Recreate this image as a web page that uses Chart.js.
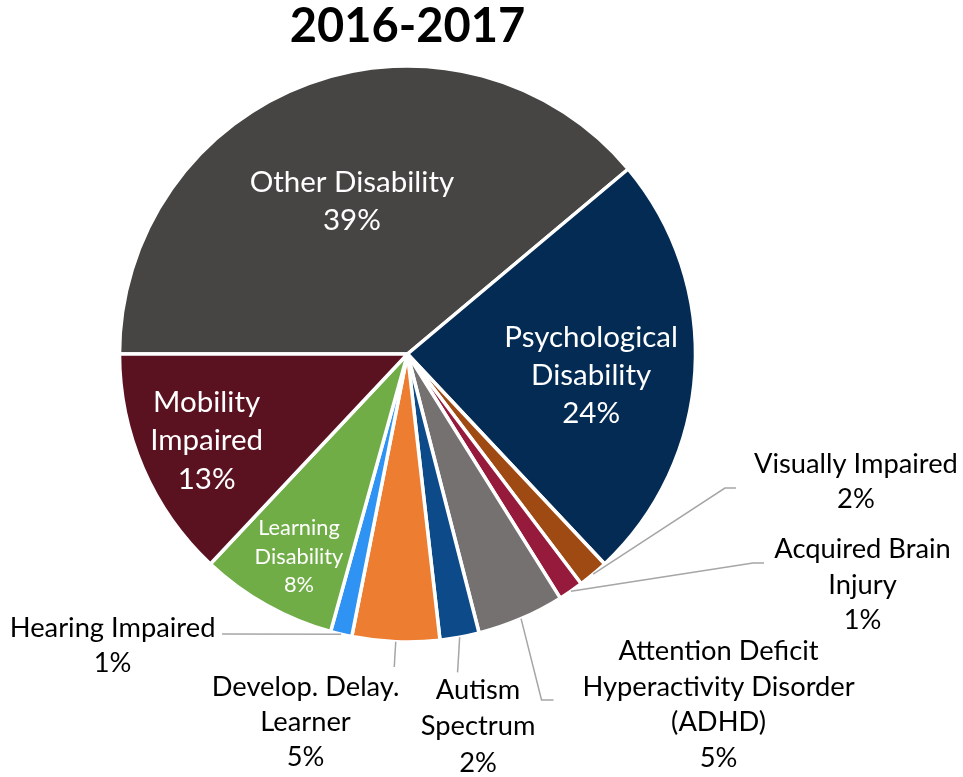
<!DOCTYPE html>
<html>
<head>
<meta charset="utf-8">
<script src="https://cdn.jsdelivr.net/npm/chart.js@4.4.0/dist/chart.umd.min.js"></script>
<style>
html,body{margin:0;padding:0;background:#ffffff;}
#wrap{width:963px;height:777px;}
</style>
</head>
<body>
<div id="wrap"><canvas id="c" width="963" height="777"></canvas></div>
<script>
// ---- data ----
const titleText = '2016-2017';
const categories = [
  ['Other Disability'],
  ['Psychological', 'Disability'],
  ['Visually Impaired'],
  ['Acquired Brain', 'Injury'],
  ['Attention Deficit', 'Hyperactivity Disorder', '(ADHD)'],
  ['Autism', 'Spectrum'],
  ['Develop. Delay.', 'Learner'],
  ['Hearing Impaired'],
  ['Learning', 'Disability'],
  ['Mobility', 'Impaired']
];
const shares = [38.9, 24.1, 1.7, 1.4, 4.9, 2.2, 4.9, 1.2, 7.7, 13.0];

// ---- styles ----
const sliceColors = ['#474543', '#042B54', '#9E4A12', '#961A3B', '#767171',
                     '#0C4A89', '#ED7D31', '#2E93F2', '#70AD47', '#5A1221'];

// label placement (relative to pie radius / label centre)
const placement = [
  {mode: 'in', f: 0.565, da: 0, size: 29.5, lh: 38},
  {mode: 'in', f: 0.642, da: 3.2, size: 29.5, lh: 38},
  {mode: 'out', fx: 1.557, fy: 0.443, elbow: [-131, 6.5], end: [-120, 6.5], size: 27.3, lh: 35.5},
  {mode: 'out', fx: 1.580, fy: 0.802, elbow: [-109.5, -22], end: [-98.5, -22], size: 27.3, lh: 35.5},
  {mode: 'out', fx: 1.080, fy: 1.217, elbow: [-177, -4.5], end: [-165, -4.5], size: 27.3, lh: 35.5},
  {mode: 'out', fx: 0.245, fy: 1.293, elbow: [-20.5, -54], end: [-20.5, -54], size: 27.3, lh: 36.5},
  {mode: 'out', fx: -0.354, fy: 1.278, elbow: [88.7, -55], end: [88.7, -55], size: 27.3, lh: 35},
  {mode: 'out', fx: -1.024, fy: 1.012, elbow: [109.5, -11.5], end: [109.5, -11.5], size: 27.3, lh: 35},
  {mode: 'in', f: 0.799, da: -1.2, size: 21.8, lh: 28.5},
  {mode: 'in', f: 0.760, da: 0, size: 29.5, lh: 38.5}
];

const FONT = 'Lato, "Open Sans", sans-serif';

const labelPlugin = {
  id: 'sliceLabels',
  afterDatasetsDraw(chart) {
    const ctx = chart.ctx;
    const meta = chart.getDatasetMeta(0);
    const total = shares.reduce((a, b) => a + b, 0);
    meta.data.forEach((arc, i) => {
      const p = arc.getProps(['x', 'y', 'startAngle', 'endAngle', 'outerRadius'], true);
      const mid = (p.startAngle + p.endAngle) / 2;
      const R = p.outerRadius;
      const cfg = placement[i];
      const lines = categories[i].concat([Math.round(shares[i] / total * 100) + '%']);
      let lx, ly;
      ctx.save();
      if (cfg.mode === 'in') {
        const a = mid + cfg.da * Math.PI / 180;
        lx = p.x + Math.cos(a) * R * cfg.f;
        ly = p.y + Math.sin(a) * R * cfg.f;
        ctx.fillStyle = '#ffffff';
      } else {
        lx = p.x + R * cfg.fx;
        ly = p.y + R * cfg.fy;
        const sx = p.x + Math.cos(mid) * R;
        const sy = p.y + Math.sin(mid) * R;
        ctx.strokeStyle = '#A6A6A6';
        ctx.lineWidth = 1.5;
        ctx.beginPath();
        ctx.moveTo(sx, sy);
        ctx.lineTo(lx + cfg.elbow[0], ly + cfg.elbow[1]);
        ctx.lineTo(lx + cfg.end[0], ly + cfg.end[1]);
        ctx.stroke();
        ctx.fillStyle = '#000000';
      }
      ctx.font = cfg.size + 'px ' + FONT;
      ctx.textAlign = 'center';
      ctx.textBaseline = 'middle';
      const n = lines.length;
      lines.forEach((t, k) => ctx.fillText(t, lx, ly + (k - (n - 1) / 2) * cfg.lh));
      ctx.restore();
    });
  }
};

new Chart(document.getElementById('c'), {
  type: 'pie',
  data: {
    labels: categories,
    datasets: [{
      data: shares,
      backgroundColor: sliceColors,
      borderColor: '#ffffff',
      borderWidth: 3.5
    }]
  },
  options: {
    responsive: false,
    animation: false,
    rotation: 270,
    layout: {padding: {left: 117.75, right: 265.75, top: 0, bottom: 133.25}},
    plugins: {
      legend: {display: false},
      tooltip: {enabled: false},
      title: {
        display: true,
        text: titleText,
        color: '#000000',
        font: {family: FONT, size: 47, weight: 'bold', lineHeight: 1},
        padding: {top: 3, bottom: 14.25}
      }
    }
  },
  plugins: [labelPlugin]
});
</script>
</body>
</html>
